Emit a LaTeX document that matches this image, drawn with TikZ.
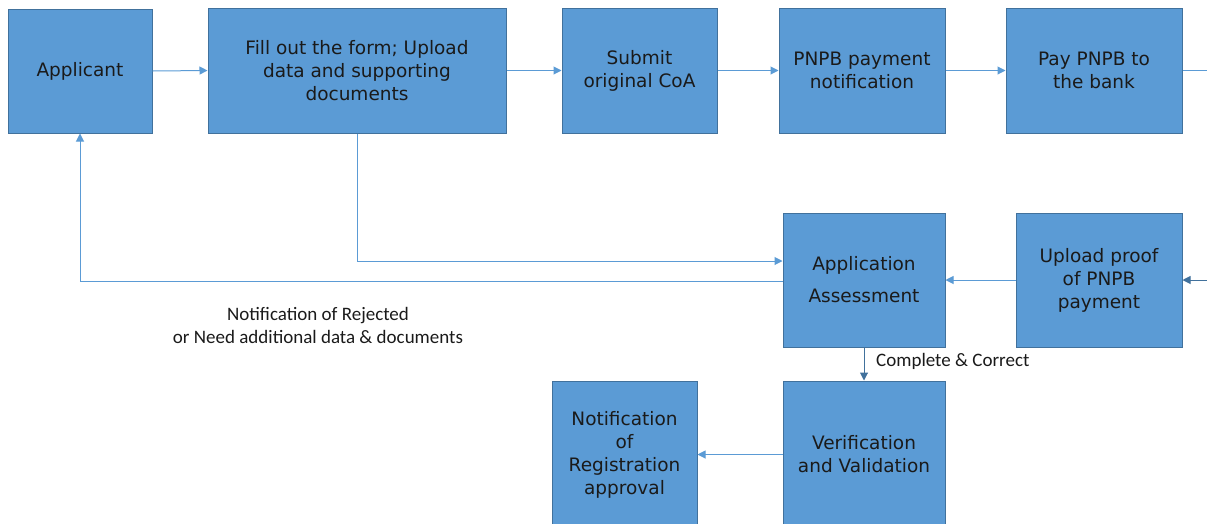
\documentclass[tikz,border=0pt]{standalone}
\usepackage{fontspec}
\setmainfont{DejaVu Sans}
\newfontfamily\labfont{Carlito}
\usetikzlibrary{arrows.meta}
\definecolor{boxfill}{HTML}{5B9BD5}
\definecolor{boxline}{HTML}{41719C}
\definecolor{linec}{HTML}{5B9BD5}
\definecolor{linedark}{HTML}{41719C}
\definecolor{txt}{HTML}{1A1A1A}
\tikzset{
  box/.style={draw=boxline, fill=boxfill, line width=1pt, align=center, inner sep=0pt,
    text=txt, font=\fontsize{18.5}{23}\selectfont},
  arr/.style={draw=linec, line width=1pt, -{Triangle[length=8pt,width=8pt]}},
  plain/.style={draw=linec, line width=1pt},
  lab/.style={align=center, inner sep=0pt, text=txt, font=\labfont\fontsize{19}{23}\selectfont}
}
\begin{document}
\begin{tikzpicture}[x=1pt,y=-1pt]
\useasboundingbox (0,0) rectangle (1207,523);
\clip (0,0) rectangle (1207,523);
\node[box, minimum width=144, minimum height=124] (app) at (80,71) {Applicant};
\node[box, minimum width=298, minimum height=125] (fill) at (357,70.5) {Fill out the form; Upload\\data and supporting\\documents};
\node[box, minimum width=155, minimum height=125] (sub) at (639.5,70.5) {Submit\\original CoA};
\node[box, minimum width=166, minimum height=125] (pnpb) at (862,70.5) {PNPB payment\\notification};
\node[box, minimum width=176, minimum height=125] (pay) at (1094,70.5) {Pay PNPB to\\the bank};
\node[box, minimum width=162, minimum height=134] (ass) at (864,280) {Application\\[9pt]Assessment};
\node[box, minimum width=166, minimum height=134] (up) at (1099,280) {Upload proof\\of PNPB\\payment};
\node[box, minimum width=162, minimum height=147] (ver) at (864,454.5) {Verification\\and Validation};
\node[box, minimum width=145, minimum height=147] (note) at (624.5,454.5) {Notification\\of\\Registration\\approval};
\coordinate (rt1) at (1210,70.5);
\coordinate (rt2) at (1210,280);
\draw[arr] (app.east) -- (fill.west);
\draw[arr] (fill.east) -- (sub.west);
\draw[arr] (sub.east) -- (pnpb.west);
\draw[arr] (pnpb.east) -- (pay.west);
\draw[plain] (pay.east) -- (rt1);
\draw[arr, draw=linedark] (rt2) -- (up.east);
\draw[arr] (up.west) -- (ass.east);
\draw[arr] (fill.south) |- ([yshift=19pt]ass.west);
\draw[arr] ([yshift=-1pt]ass.west) -| (app.south);
\draw[arr, draw=linedark] (ass.south) -- (ver.north);
\draw[arr] (ver.west) -- (note.east);
\node[lab] (rej) at (318,325) {Notification of Rejected\\or Need additional data \& documents};
\node[lab, anchor=west] (cc) at (876,361) {Complete \& Correct};
\end{tikzpicture}
\end{document}
